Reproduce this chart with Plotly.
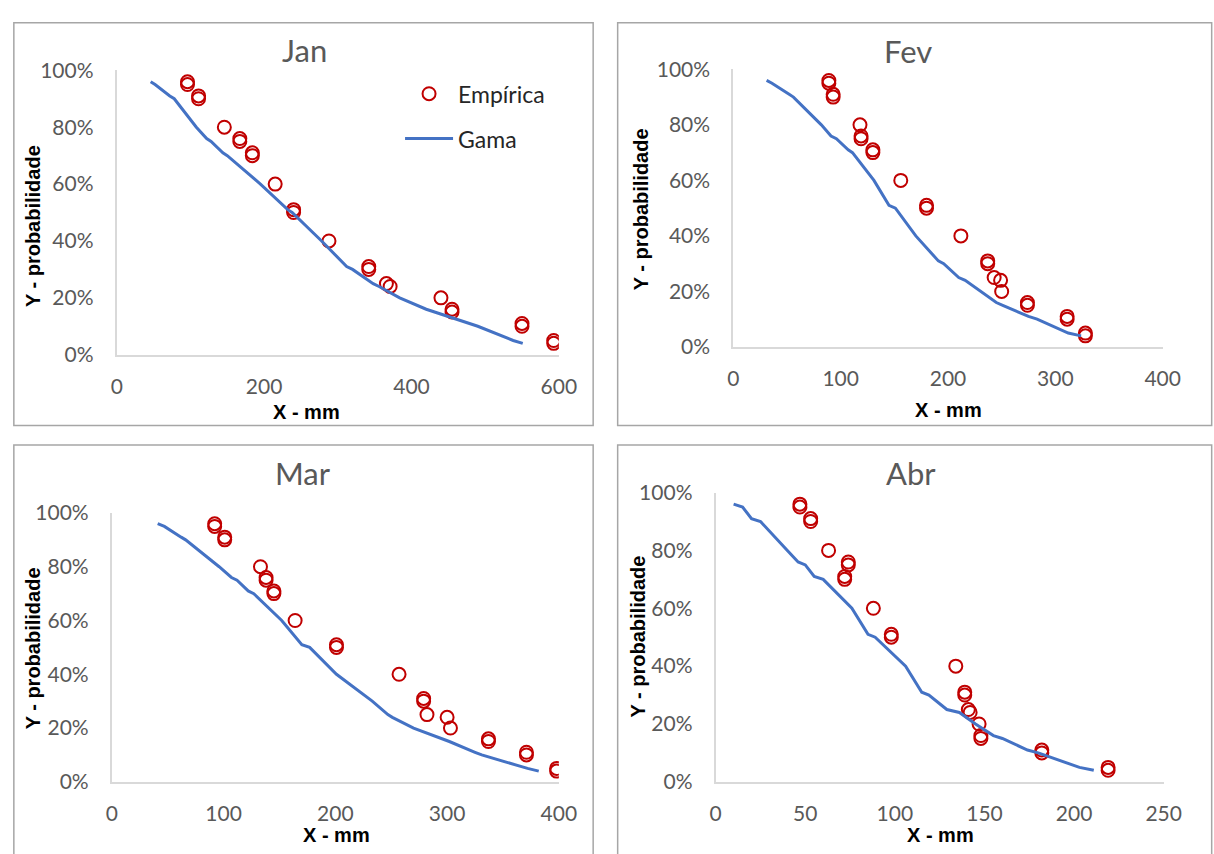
import plotly.graph_objects as go

W, H = 1214, 854

# Probabilities (%) shared by empirical points and the Gama curve
prob = [96, 95, 91, 90, 80, 76, 75, 71, 70, 60, 51, 50, 40, 31, 30, 25, 24, 20, 16, 15, 11, 10, 5, 4]

# Empirical x (mm) per month
jan_emp = [96, 96, 111, 111, 146, 167, 167, 184, 184, 215, 240, 240, 288, 342, 342, 366, 371, 440, 455, 455, 550, 550, 593, 593]
fev_emp = [89, 89, 93, 93, 118, 119, 119, 130, 130, 156, 180, 180, 212, 237, 237, 243, 249, 250, 274, 274, 311, 311, 328, 328]
mar_emp = [92, 92, 101, 101, 133, 138, 138, 145, 145, 164, 201, 201, 257, 279, 279, 282, 300, 303, 337, 337, 371, 371, 398, 398]
abr_emp = [47, 47, 53, 53, 63, 74, 74, 72, 72, 88, 98, 98, 134, 139, 139, 141, 142, 147, 148, 148, 182, 182, 219, 219]

# Gama curve x (mm) per month at the same probabilities
jan_gama = [46, 52, 72, 78, 108, 122, 128, 144, 150, 195, 232, 238, 278, 312, 320, 348, 356, 384, 420, 432, 480, 490, 538, 551]
fev_gama = [31, 36, 52, 56, 82, 91, 96, 107, 111, 131, 145, 151, 170, 191, 196, 210, 216, 230, 245, 251, 275, 283, 312, 324]
mar_gama = [41, 47, 62, 66, 96, 107, 112, 122, 127, 152, 170, 177, 201, 229, 233, 247, 251, 270, 297, 302, 325, 331, 372, 382]
abr_gama = [10, 15, 20, 25, 40, 46, 50, 55, 60, 76, 85, 89, 106, 115, 119, 129, 136, 145, 155, 160, 174, 180, 203, 211]

months = ["Jan", "Fev", "Mar", "Abr"]
x_max = [600, 400, 400, 250]
x_dtick = [200, 100, 100, 50]

# pixel geometry (left, right, bottom(0%), top(100%))
geom = [
    (113, 564, 351, 58),
    (742, 1180, 343, 57),
    (108, 564, 791, 514),
    (724, 1181, 791, 493),
]
title_pos = [(305, 37), (920, 38), (303, 473), (923, 473)]
xtitle_pos = [(307, 410), (961, 408), (337, 846), (953, 846)]
ytitle_pos = [(27, 218), (648, 201), (27, 653), (645, 641)]
borders = [(8, 9, 599, 424), (624, 9, 1230, 424), (8, 444, 599, 870), (624, 444, 1230, 870)]

def px(x):
    return x / W

def py(y):
    return 1 - y / H

emp = [jan_emp, fev_emp, mar_emp, abr_emp]
gam = [jan_gama, fev_gama, mar_gama, abr_gama]

fig = go.Figure()
annotations = []
shapes = []
layout_axes = {}

TICKFONT = dict(family="Lato", size=21, color="#595959")
AXFONT = dict(family="Liberation Sans", size=20, color="#000000")

for i in range(4):
    n = "" if i == 0 else str(i + 1)
    xa, ya = "x" + n, "y" + n
    l, r, b, t = geom[i]
    layout_axes["xaxis" + n] = dict(
        domain=[px(l), px(r)], range=[0, x_max[i]], dtick=x_dtick[i], tick0=0,
        anchor=ya, showgrid=False, zeroline=False, showline=True,
        linecolor="#d9d9d9", linewidth=2, ticks="", tickfont=TICKFONT,
        ticklabelstandoff=12, fixedrange=True,
    )
    layout_axes["yaxis" + n] = dict(
        domain=[py(b), py(t)], range=[0, 100], dtick=20, tick0=0, ticksuffix="%",
        anchor=xa, showgrid=False, zeroline=False, showline=True,
        linecolor="#d9d9d9", linewidth=2, ticks="", tickfont=TICKFONT,
        ticklabelstandoff=17, fixedrange=True,
    )
    fig.add_trace(go.Scatter(
        x=emp[i], y=prob, mode="markers", name="Empírica",
        marker=dict(symbol="circle-open", size=13, color="#c00000", line=dict(width=2, color="#c00000")),
        xaxis=xa, yaxis=ya, showlegend=(i == 0), legendgroup="emp",
    ))
    fig.add_trace(go.Scatter(
        x=gam[i], y=prob, mode="lines", name="Gama",
        line=dict(color="#4472c4", width=3),
        xaxis=xa, yaxis=ya, showlegend=(i == 0), legendgroup="gama",
    ))
    tx, ty = title_pos[i]
    annotations.append(dict(text=months[i], x=px(tx), y=py(ty), xref="paper", yref="paper",
                            showarrow=False, xanchor="center", yanchor="middle",
                            font=dict(family="Lato", size=31, color="#595959")))
    xx, xy = xtitle_pos[i]
    annotations.append(dict(text="<b>X - mm</b>", x=px(xx), y=py(xy), xref="paper", yref="paper",
                            showarrow=False, xanchor="center", yanchor="middle", font=AXFONT))
    yx, yy = ytitle_pos[i]
    annotations.append(dict(text="<b>Y - probabilidade</b>", x=px(yx), y=py(yy), xref="paper", yref="paper",
                            showarrow=False, xanchor="center", yanchor="middle", textangle=-90, font=AXFONT))
    bl, bt, br, bb = borders[i]
    shapes.append(dict(type="rect", xref="paper", yref="paper", x0=px(bl), x1=px(br), y0=py(bb), y1=py(bt),
                       line=dict(color="#a6a6a6", width=1.5), fillcolor="rgba(0,0,0,0)", layer="below"))

fig.update_layout(
    width=W, height=H, margin=dict(l=0, r=0, t=0, b=0),
    paper_bgcolor="white", plot_bgcolor="white",
    annotations=annotations, shapes=shapes,
    legend=dict(x=px(402), y=py(60), xanchor="left", yanchor="top",
                font=dict(family="Lato", size=23, color="#262626"),
                itemwidth=48, tracegroupgap=12, bgcolor="rgba(0,0,0,0)"),
    **layout_axes,
)

fig.write_html("out.html")
